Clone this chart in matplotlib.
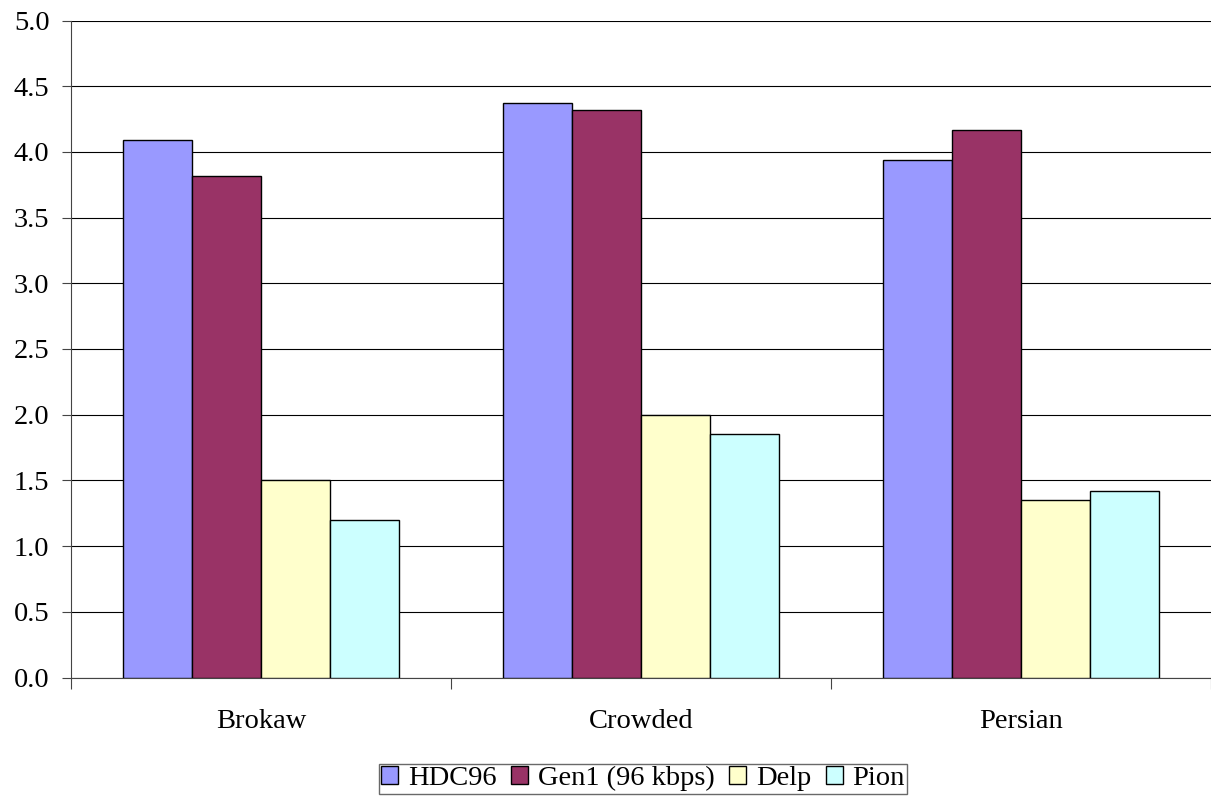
import numpy as np
import matplotlib
matplotlib.use("Agg")
import matplotlib.pyplot as plt
from matplotlib.patches import Patch

# Scores per clip and codec
clips = ["Brokaw", "Crowded", "Persian"]
series = ["HDC96", "Gen1 (96 kbps)", "Delp", "Pion"]
hdc96 = [4.09, 4.37, 3.94]
gen1 = [3.82, 4.32, 4.17]
delp = [1.50, 2.00, 1.35]
pion = [1.20, 1.85, 1.42]
colors = ["#9999FF", "#993366", "#FFFFCC", "#CCFFFF"]
yticks = [0.0, 0.5, 1.0, 1.5, 2.0, 2.5, 3.0, 3.5, 4.0, 4.5, 5.0]

plt.rcParams['font.family'] = ['Liberation Serif', 'DejaVu Serif']
fs = 20.5

fig = plt.figure(figsize=(12.11, 7.96), dpi=100)
ax = fig.add_axes([71 / 1211, 1 - 677.5 / 796, 1 - 71 / 1211, (677.5 - 20.5) / 796])

# Excel-style clustered bars: gap width 150%
width = 1 / 5.5
x = np.arange(len(clips))
for i, (vals, col) in enumerate(zip([hdc96, gen1, delp, pion], colors)):
    ax.bar(x + (i - 1.5) * width, vals, width, color=col,
           edgecolor="black", linewidth=1.0, zorder=3)

ax.set_xlim(-0.5, len(clips) - 0.5)
ax.set_ylim(0, 5.0)
ax.set_yticks(yticks)
ax.set_yticklabels(["%.1f" % v for v in yticks], fontsize=fs)
ax.yaxis.grid(True, color="black", linewidth=0.8, zorder=0)

# category boundaries carry the tick marks, labels sit at the centres
ax.set_xticks(np.arange(len(clips) + 1) - 0.5)
ax.set_xticklabels([])
ax.set_xticks(x, minor=True)
ax.set_xticklabels(clips, minor=True, fontsize=fs)
ax.tick_params(axis="x", which="minor", length=0, pad=23)
ax.tick_params(axis="x", which="major", length=8, width=0.8, color="#444444")
ax.tick_params(axis="y", length=6.5, width=0.8, pad=9, color="#444444")

for side in ["top", "right"]:
    ax.spines[side].set_visible(False)
ax.spines["left"].set_color("#444444")
ax.spines["bottom"].set_color("#444444")

handles = [Patch(facecolor=c, edgecolor="black", linewidth=1.0) for c in colors]
leg = fig.legend(handles, series, loc="upper center",
                 bbox_to_anchor=(643 / 1211, 1 - 764 / 796), ncol=4,
                 fontsize=fs, frameon=True, fancybox=False,
                 handlelength=0.6, handleheight=0.6, handletextpad=0.35,
                 columnspacing=0.5, borderpad=0.08, borderaxespad=0)
leg.get_frame().set_edgecolor("#444444")
leg.get_frame().set_linewidth(1.0)

fig.savefig("out.png", dpi=100)
